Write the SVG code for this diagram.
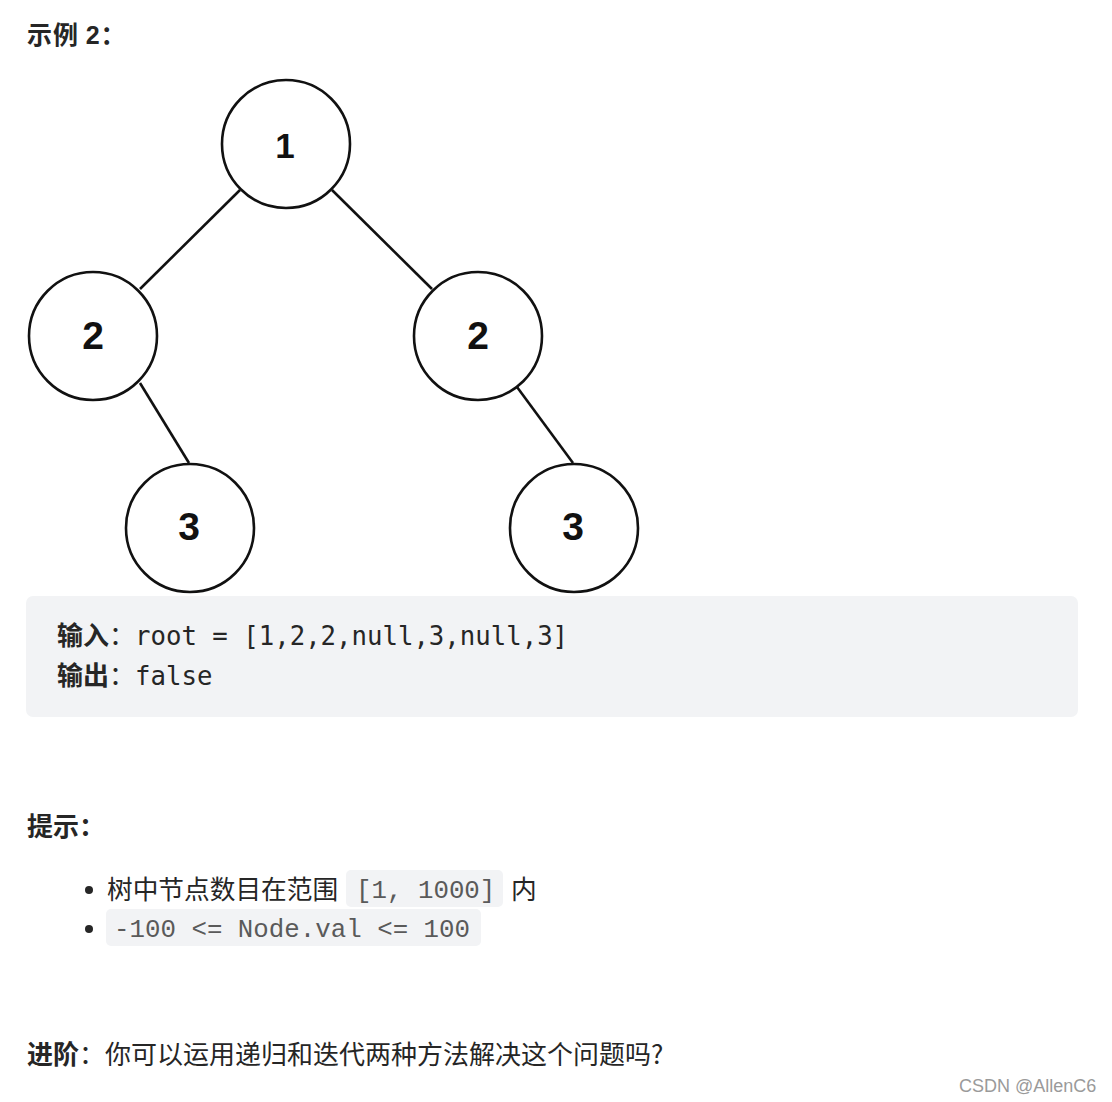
<svg xmlns="http://www.w3.org/2000/svg" width="1112" height="1102" viewBox="0 0 1112 1102">
<style>
.node circle{fill:#fff;stroke:#111;stroke-width:2.6}
.node text{font-family:"Liberation Sans",Arial,sans-serif;font-weight:bold;fill:#111;text-anchor:middle}
.edges line{stroke:#111;stroke-width:2.6}
.cn{font-family:"Noto Sans CJK SC","Liberation Sans",sans-serif;fill:#262626}
.b{font-weight:bold}
.mono{font-family:"DejaVu Sans Mono","Liberation Mono",monospace}
.code{font-family:"Liberation Mono","Courier New",monospace;fill:#5a5a5a;font-size:25.8px}
.pill{fill:#f2f3f5}
</style>
<rect width="1112" height="1102" fill="#fff"/>
<text x="27" y="44" class="cn b" font-size="25" letter-spacing="1">示例 <tspan font-family="Liberation Sans,sans-serif">2</tspan>：</text>
<g class="edges">
<line x1="240" y1="190" x2="140" y2="289"/>
<line x1="332" y1="190" x2="432" y2="289"/>
<line x1="140" y1="383" x2="189" y2="463"/>
<line x1="517" y1="387" x2="573" y2="463"/>
</g>
<g id="n1" class="node"><circle cx="286" cy="144" r="64"/><text x="285" y="158" font-size="35">1</text></g>
<g id="n2l" class="node"><circle cx="93" cy="336" r="64"/><text x="93" y="349" font-size="39">2</text></g>
<g id="n2r" class="node"><circle cx="478" cy="336" r="64"/><text x="478" y="349" font-size="39">2</text></g>
<g id="n3l" class="node"><circle cx="190" cy="528" r="64"/><text x="189" y="540" font-size="39">3</text></g>
<g id="n3r" class="node"><circle cx="574" cy="528" r="64"/><text x="573" y="540" font-size="39">3</text></g>
<rect x="26" y="596" width="1052" height="121" rx="7" class="pill"/>
<text x="57" y="645" font-size="26" class="cn"><tspan class="b">输入</tspan>：<tspan class="mono" font-size="25.7">root = [1,2,2,null,3,null,3]</tspan></text>
<text x="57" y="685" font-size="26" class="cn"><tspan class="b">输出</tspan>：<tspan class="mono" font-size="25.7">false</tspan></text>
<text x="27" y="836" font-size="26" class="cn b">提示：</text>
<circle cx="89" cy="890" r="4" fill="#262626"/>
<circle cx="89" cy="929" r="4" fill="#262626"/>
<text x="107" y="899" font-size="25.7" class="cn">树中节点数目在范围</text>
<rect x="346" y="870" width="157" height="37" rx="5" class="pill"/>
<text x="356" y="898" class="code">[1, 1000]</text>
<text x="511" y="899" font-size="25.7" class="cn">内</text>
<rect x="106" y="909" width="375" height="37" rx="5" class="pill"/>
<text x="114" y="937" class="code">-100 &lt;= Node.val &lt;= 100</text>
<text x="27" y="1064" font-size="26" class="cn"><tspan class="b">进阶</tspan>：你可以运用递归和迭代两种方法解决这个问题吗?</text>
<text x="959" y="1092" font-size="18" font-family="Liberation Sans,Arial,sans-serif" fill="#9a9a9a">CSDN @AllenC6</text>
</svg>
